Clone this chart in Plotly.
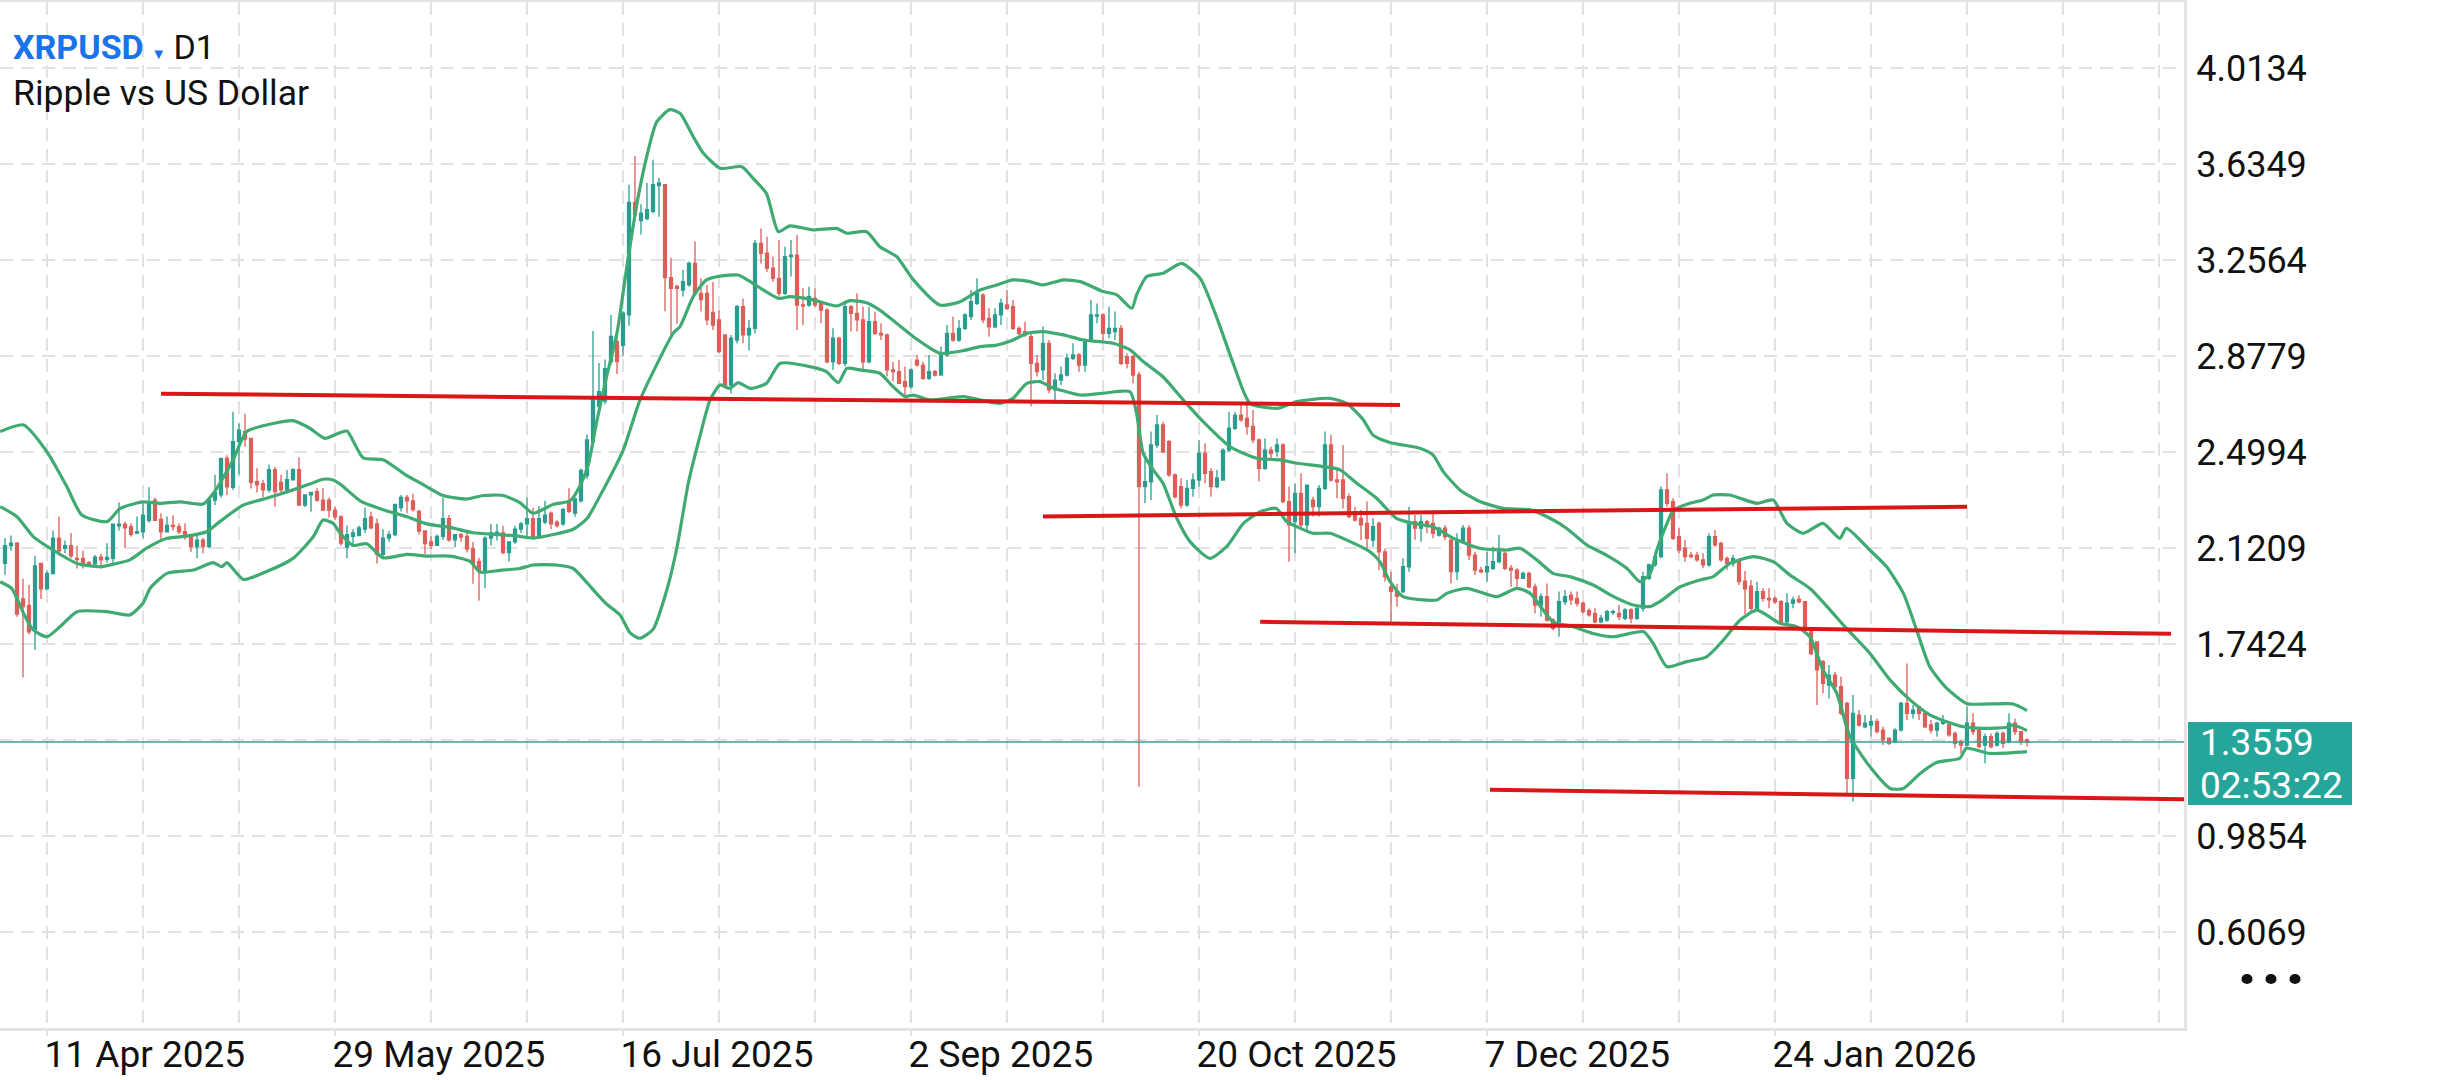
import pandas as pd
import plotly.graph_objects as go

# ---------------- data ----------------
start_date = "2025-04-04"
n_days = 338

opens = [2.06,2.13,2.14,1.92,1.895,1.80,2.06,1.96,2.02,2.16,
2.12,2.13,2.08,2.08,2.063,2.058,2.085,2.076,2.08,2.208,
2.215,2.205,2.18,2.185,2.23,2.31,2.234,2.185,2.21,2.205,
2.185,2.166,2.126,2.152,2.126,2.31,2.33,2.474,2.36,2.54,
2.58,2.553,2.382,2.375,2.35,2.43,2.38,2.35,2.39,2.43,
2.29,2.33,2.343,2.31,2.31,2.27,2.244,2.124,2.167,2.17,
2.195,2.244,2.216,2.096,2.16,2.174,2.28,2.32,2.307,2.265,
2.188,2.145,2.131,2.167,2.237,2.153,2.174,2.167,2.117,2.068,
2.033,2.16,2.178,2.18,2.103,2.145,2.195,2.216,2.237,2.167,
2.223,2.258,2.223,2.216,2.307,2.258,2.307,2.406,2.54,2.68,
2.70,2.856,2.934,2.92,3.04,3.483,3.412,3.42,3.448,3.55,
3.553,3.187,3.152,3.138,3.158,3.243,3.125,3.125,3.05,3.02,
2.961,2.763,2.941,3.072,2.961,2.987,3.322,3.283,3.224,3.184,
3.125,3.27,3.276,3.079,3.079,3.105,3.085,3.059,2.855,2.948,
2.849,3.072,3.046,3.02,2.855,3.013,2.967,2.961,2.823,2.816,
2.777,2.757,2.862,2.842,2.79,2.816,2.803,2.882,2.967,2.941,
2.987,3.033,3.085,3.118,3.026,2.993,3.04,3.079,3.072,2.987,
2.974,2.954,2.849,2.823,2.928,2.744,2.783,2.803,2.869,2.882,
2.842,2.941,3.035,3.04,2.967,2.974,2.987,2.875,2.875,2.803,
2.363,2.382,2.527,2.606,2.54,2.409,2.363,2.29,2.356,2.389,
2.494,2.422,2.363,2.389,2.507,2.593,2.645,2.632,2.60,2.547,
2.435,2.507,2.501,2.527,2.304,2.225,2.336,2.212,2.31,2.284,
2.356,2.527,2.389,2.389,2.323,2.264,2.238,2.218,2.152,2.218,
2.106,1.968,1.95,1.949,2.047,2.225,2.199,2.225,2.218,2.172,
2.199,2.152,2.028,2.146,2.199,2.093,2.034,2.027,2.041,2.067,
2.10,2.041,2.034,2.001,2.021,1.968,1.896,1.929,1.837,1.83,
1.909,1.935,1.922,1.903,1.874,1.863,1.83,1.837,1.867,1.863,
1.844,1.877,1.844,1.883,2.001,2.054,2.087,2.35,2.304,2.166,
2.12,2.093,2.093,2.074,2.054,2.166,2.139,2.08,2.06,2.067,
1.99,1.97,1.883,1.949,1.922,1.922,1.909,1.83,1.903,1.918,
1.909,1.79,1.751,1.673,1.58,1.62,1.574,1.508,1.213,1.462,
1.416,1.423,1.436,1.403,1.371,1.357,1.403,1.508,1.469,1.495,
1.469,1.423,1.403,1.43,1.423,1.39,1.357,1.344,1.43,1.403,
1.344,1.377,1.344,1.39,1.357,1.43,1.397,1.364]

highs = [2.16,2.17,2.145,2.0,1.975,2.09,2.06,2.03,2.19,2.245,
2.15,2.18,2.13,2.11,2.07,2.093,2.097,2.14,2.215,2.30,
2.225,2.218,2.245,2.30,2.36,2.32,2.258,2.245,2.25,2.218,
2.218,2.172,2.172,2.16,2.316,2.41,2.474,2.487,2.658,2.612,
2.65,2.553,2.435,2.39,2.45,2.44,2.41,2.428,2.435,2.478,
2.33,2.343,2.356,2.356,2.32,2.284,2.25,2.21,2.195,2.21,
2.28,2.265,2.237,2.195,2.188,2.293,2.33,2.33,2.335,2.272,
2.188,2.167,2.174,2.32,2.251,2.174,2.18,2.18,2.145,2.082,
2.167,2.216,2.216,2.209,2.145,2.209,2.223,2.32,2.28,2.286,
2.307,2.265,2.23,2.28,2.356,2.32,2.434,2.568,2.976,2.85,
2.864,3.04,2.955,3.054,3.553,3.666,3.476,3.56,3.652,3.58,
3.553,3.265,3.159,3.217,3.25,3.329,3.184,3.158,3.17,3.06,
2.961,2.961,3.079,3.105,3.02,3.335,3.381,3.348,3.27,3.335,
3.309,3.335,3.355,3.145,3.151,3.145,3.092,3.066,2.987,2.954,
3.092,3.079,3.125,3.072,3.072,3.052,3.007,2.967,2.855,2.862,
2.836,2.829,2.882,2.855,2.882,2.823,2.915,3.0,3.033,3.02,
3.046,3.138,3.184,3.125,3.066,3.066,3.105,3.138,3.099,2.994,
3.013,2.967,2.882,2.994,2.941,2.81,2.836,2.888,2.928,2.889,
2.948,3.099,3.085,3.046,3.072,3.053,3.0,2.888,2.882,2.816,
2.494,2.58,2.645,2.619,2.547,2.415,2.396,2.389,2.415,2.547,
2.534,2.435,2.429,2.514,2.658,2.658,2.685,2.685,2.665,2.553,
2.553,2.52,2.553,2.534,2.363,2.376,2.415,2.369,2.323,2.369,
2.58,2.567,2.429,2.527,2.336,2.284,2.271,2.304,2.238,2.225,
2.119,2.027,1.98,2.08,2.284,2.251,2.251,2.231,2.264,2.205,
2.212,2.159,2.179,2.212,2.212,2.106,2.047,2.106,2.126,2.172,
2.106,2.054,2.041,2.027,2.027,1.981,1.942,1.981,1.844,1.949,
1.955,1.949,1.949,1.909,1.883,1.883,1.857,1.877,1.877,1.896,
1.883,1.883,1.89,2.027,2.06,2.10,2.363,2.415,2.317,2.199,
2.152,2.106,2.106,2.10,2.179,2.192,2.146,2.087,2.093,2.08,
2.03,1.995,1.988,1.962,1.962,1.93,1.916,1.942,1.929,1.935,
1.909,1.797,1.751,1.679,1.66,1.633,1.613,1.515,1.541,1.482,
1.462,1.462,1.449,1.416,1.371,1.41,1.515,1.666,1.502,1.495,
1.476,1.443,1.436,1.462,1.43,1.397,1.364,1.495,1.469,1.41,
1.39,1.39,1.397,1.397,1.469,1.449,1.397,1.371]

lows = [2.015,2.11,1.85,1.61,1.78,1.72,1.92,1.955,2.02,2.09,
2.10,2.08,2.04,2.04,2.05,2.05,2.04,2.063,2.063,2.19,
2.12,2.165,2.175,2.16,2.22,2.23,2.146,2.185,2.19,2.176,
2.153,2.106,2.08,2.10,2.12,2.29,2.32,2.33,2.35,2.41,
2.52,2.355,2.34,2.32,2.34,2.284,2.337,2.337,2.39,2.286,
2.283,2.264,2.303,2.27,2.24,2.23,2.13,2.08,2.13,2.167,
2.18,2.195,2.06,2.082,2.146,2.167,2.265,2.258,2.265,2.174,
2.096,2.117,2.131,2.153,2.146,2.124,2.146,2.103,1.98,1.913,
1.962,2.131,2.15,2.096,2.068,2.138,2.18,2.167,2.16,2.16,
2.216,2.195,2.202,2.209,2.258,2.244,2.30,2.392,2.533,2.673,
2.688,2.843,2.807,2.877,2.997,3.42,3.357,3.413,3.441,3.427,
3.054,2.955,3.004,3.112,3.151,3.118,3.053,3.0,2.98,2.888,
2.75,2.73,2.928,2.928,2.90,2.967,3.243,3.21,3.171,3.112,
3.118,3.191,2.98,3.0,3.072,3.072,3.007,2.849,2.823,2.842,
2.836,2.974,2.974,2.823,2.849,2.961,2.941,2.797,2.777,2.77,
2.718,2.75,2.836,2.783,2.783,2.797,2.803,2.875,2.934,2.934,
2.98,3.02,3.079,3.007,2.954,2.987,3.0,3.059,2.98,2.961,
2.954,2.68,2.797,2.783,2.731,2.691,2.764,2.797,2.862,2.816,
2.816,2.934,3.007,2.941,2.948,2.941,2.842,2.829,2.77,1.18,
2.297,2.31,2.514,2.494,2.402,2.317,2.277,2.284,2.323,2.363,
2.376,2.323,2.356,2.389,2.50,2.586,2.619,2.567,2.534,2.383,
2.429,2.468,2.481,2.297,2.067,2.10,2.192,2.185,2.245,2.245,
2.35,2.383,2.317,2.277,2.238,2.225,2.152,2.113,2.126,2.034,
1.988,1.83,1.89,1.942,2.027,2.153,2.146,2.179,2.159,2.166,
2.152,1.982,1.995,2.139,2.074,2.014,2.021,1.988,2.034,2.06,
2.034,1.968,1.968,2.0,1.962,1.863,1.85,1.83,1.797,1.771,
1.896,1.896,1.89,1.863,1.85,1.824,1.824,1.83,1.857,1.837,
1.837,1.824,1.837,1.87,1.995,2.047,2.08,2.284,2.152,2.10,
2.067,2.08,2.067,2.041,2.047,2.126,2.067,2.034,2.047,1.975,
1.86,1.87,1.876,1.909,1.883,1.90,1.824,1.824,1.883,1.903,
1.804,1.699,1.502,1.548,1.528,1.568,1.462,1.154,1.121,1.416,
1.41,1.377,1.39,1.344,1.344,1.351,1.397,1.443,1.449,1.443,
1.41,1.39,1.377,1.423,1.377,1.331,1.311,1.338,1.384,1.331,
1.272,1.331,1.338,1.331,1.351,1.384,1.344,1.338]

closes = [2.13,2.14,1.86,1.89,1.79,2.05,1.96,2.02,2.16,2.11,
2.13,2.09,2.075,2.06,2.058,2.085,2.074,2.084,2.215,2.215,
2.20,2.175,2.185,2.25,2.30,2.23,2.185,2.21,2.205,2.185,
2.166,2.126,2.152,2.126,2.31,2.34,2.474,2.362,2.54,2.586,
2.55,2.38,2.37,2.35,2.43,2.343,2.35,2.39,2.43,2.29,
2.33,2.34,2.31,2.27,2.27,2.244,2.14,2.174,2.18,2.20,
2.237,2.20,2.096,2.16,2.174,2.293,2.32,2.307,2.272,2.188,
2.138,2.131,2.167,2.237,2.153,2.174,2.164,2.117,2.06,2.033,
2.16,2.18,2.183,2.103,2.145,2.195,2.216,2.237,2.167,2.237,
2.25,2.216,2.209,2.272,2.265,2.314,2.427,2.547,2.716,2.737,
2.828,2.955,2.856,3.047,3.483,3.434,3.441,3.455,3.553,3.56,
3.187,3.145,3.145,3.171,3.243,3.125,3.10,3.02,3.0,2.895,
2.763,2.948,3.072,2.961,2.987,3.322,3.283,3.224,3.184,3.125,
3.27,3.276,3.079,3.075,3.112,3.079,3.059,2.855,2.948,2.849,
3.072,3.046,3.02,2.855,3.013,2.967,2.961,2.823,2.816,2.77,
2.757,2.823,2.842,2.79,2.816,2.803,2.882,2.967,2.941,2.987,
3.04,3.092,3.125,3.02,2.993,3.04,3.085,3.066,2.987,2.967,
2.961,2.849,2.816,2.928,2.744,2.783,2.803,2.869,2.882,2.842,
2.941,3.04,3.04,2.967,2.987,2.987,2.849,2.849,2.803,2.363,
2.382,2.527,2.606,2.50,2.409,2.323,2.29,2.356,2.389,2.494,
2.415,2.363,2.396,2.507,2.593,2.645,2.626,2.60,2.547,2.435,
2.507,2.494,2.527,2.304,2.212,2.336,2.212,2.369,2.284,2.356,
2.527,2.389,2.382,2.317,2.245,2.231,2.212,2.159,2.205,2.106,
2.008,1.95,1.93,2.047,2.225,2.199,2.225,2.205,2.179,2.199,
2.166,2.028,2.146,2.199,2.093,2.034,2.027,2.047,2.067,2.106,
2.041,2.034,2.001,2.021,1.968,1.896,1.929,1.837,1.804,1.909,
1.929,1.916,1.903,1.87,1.857,1.83,1.844,1.87,1.87,1.85,
1.877,1.844,1.883,2.008,2.054,2.087,2.35,2.297,2.159,2.113,
2.087,2.087,2.074,2.054,2.166,2.133,2.074,2.06,2.08,1.988,
1.96,1.883,1.949,1.922,1.916,1.909,1.83,1.903,1.916,1.909,
1.804,1.705,1.64,1.587,1.62,1.574,1.469,1.213,1.469,1.423,
1.43,1.436,1.397,1.364,1.351,1.403,1.508,1.469,1.482,1.469,
1.416,1.403,1.43,1.436,1.384,1.351,1.344,1.43,1.397,1.338,
1.377,1.338,1.39,1.351,1.43,1.397,1.357,1.3559]

# Bollinger band lines, read at sample points (day offset from start_date, price)
upper_days = [-0.8,3.1,7,10.3,12.8,17,19.2,23,25.8,29.2,33,34.7,38,40.3,44.7,48,50.8,53.3,55.8,57,
59.7,63,67,69.7,73,77,79.7,83,85.8,88,91.4,94.2,95.8,97.2,98.6,100.3,102,103.6,105.3,106.9,
108.6,110.8,112.5,114.7,116.4,119.2,122.8,124.7,126.9,128.9,130.8,134.7,138.6,140.3,143.6,145.8,148.6,151.4,155.8,159.2,
162.5,165.3,168,170.8,173,176.4,179.2,183,185.3,187.8,188.6,190.3,193,196.1,199.2,201.9,204.7,207.5,212.2,215.3,
220.8,223.6,226.4,228,230.8,235.8,238,239.7,242.5,245.8,249.7,254.2,257.5,260.3,263.6,266.9,270.3,272.5,274.2,275.3,
277,278.1,280.8,283,284.7,287.5,289.2,292,294.7,297,299.7,303,305.8,306.9,310.8,313.6,316.4,318.6,320.8,323.6,
326.9,330.8,334.7,337]
upper_vals = [2.58,2.606,2.5,2.363,2.251,2.225,2.277,2.303,2.297,2.303,2.294,2.336,2.468,2.58,2.612,2.623,2.593,2.553,2.575,2.582,
2.476,2.469,2.406,2.371,2.328,2.314,2.328,2.328,2.3,2.258,2.293,2.307,2.364,2.448,2.617,2.80,2.969,3.223,3.476,3.659,
3.80,3.849,3.835,3.743,3.677,3.618,3.624,3.578,3.519,3.368,3.391,3.375,3.381,3.362,3.368,3.309,3.27,3.178,3.079,3.092,
3.138,3.158,3.178,3.171,3.158,3.178,3.171,3.132,3.119,3.066,3.119,3.191,3.204,3.243,3.184,3.033,2.849,2.691,2.672,2.698,
2.711,2.691,2.626,2.566,2.537,2.514,2.488,2.422,2.35,2.304,2.277,2.271,2.238,2.198,2.133,2.093,2.041,1.988,2.021,2.113,
2.218,2.271,2.297,2.31,2.33,2.33,2.317,2.297,2.31,2.218,2.179,2.218,2.159,2.198,2.113,2.047,1.942,1.798,1.653,1.568,
1.508,1.506,1.506,1.48]

middle_days = [-0.8,2,4.7,8,12,15.8,17.5,20.8,23.6,27,30.3,33.6,35.8,39.7,43.6,48,50.8,53,54.7,56,
59.2,63,67,70.3,74.2,78,82.5,85.8,88,91.4,94.7,97,99.7,103,105.8,108.6,111.4,112.5,114.7,116.9,
119.2,122.2,124.2,128.9,130.8,134.7,138.6,140.8,143.6,145.8,148.6,151.4,155.8,159.7,162.5,165.3,168,170.3,173,176.4,
179.7,184.7,187.5,189.7,193,196.4,199.7,204.2,208.6,212.5,215.3,219.7,222.5,225.3,228.6,231.9,234.7,238,241.4,245.8,
250.3,252.5,255.3,258,260.8,264.7,268.1,271.4,274.2,275.8,279.2,282.5,284.7,287.5,291.4,294.7,297.5,300.8,304.2,306.9,
310.8,314.2,317.5,320.8,323.6,326.4,329.7,333.6,334.7,337]
middle_vals = [2.284,2.244,2.166,2.113,2.06,2.047,2.054,2.074,2.12,2.159,2.168,2.185,2.225,2.29,2.317,2.35,2.373,2.392,2.389,2.37,
2.307,2.272,2.244,2.216,2.202,2.181,2.174,2.167,2.16,2.174,2.195,2.237,2.35,2.505,2.702,2.843,2.969,2.994,3.112,3.178,
3.193,3.197,3.171,3.105,3.112,3.099,3.075,3.096,3.088,3.059,3.007,2.954,2.889,2.899,2.915,2.921,2.941,2.967,2.974,2.961,
2.941,2.928,2.902,2.856,2.796,2.704,2.619,2.52,2.475,2.468,2.455,2.442,2.429,2.376,2.317,2.238,2.218,2.205,2.159,2.12,
2.113,2.12,2.074,2.021,2.008,1.975,1.929,1.896,1.89,1.909,1.968,1.995,2.008,2.06,2.087,2.067,2.014,1.962,1.876,1.804,
1.706,1.60,1.522,1.463,1.436,1.416,1.41,1.414,1.423,1.401]

lower_days = [-0.8,1.1,3.1,4.7,7,9.2,12,17,20.8,23,24.2,27,31.4,34.7,36.1,37,39.7,43.6,48,51.4,
53,54.7,55.8,58,60.3,63,67,70.3,74.2,77.5,79.2,82.5,85.8,88,91.9,94.7,97,98.6,100.3,102.5,
104.2,105.8,108,110.3,112,113.9,115.8,117.5,119.2,120.8,122.2,124.2,126.9,129.2,134.7,136.9,138.9,140.3,142.5,145.8,
148,150,151.4,154.2,159.7,165.8,168,170.3,172.5,174.2,179.2,183,187.5,188.6,189.7,191.4,193,195.3,197.5,200.8,
203.6,206.4,209.2,211.9,213.6,215.3,218,220.8,224.2,227.5,229.2,230.8,233,238.6,240.3,243.6,248.6,252,254.2,258,
261.4,264.7,268.1,273.1,274.7,277,280.3,283.6,286.4,289.2,292,295.8,298.6,300.8,303,305.3,307.5,310.8,314.2,316.4,
319.2,321.9,325.8,326.9,330.8,337]
lower_vals = [1.988,1.962,1.863,1.798,1.771,1.811,1.87,1.87,1.857,1.903,1.962,2.021,2.034,2.063,2.047,2.063,1.997,2.028,2.08,2.166,
2.231,2.218,2.181,2.131,2.138,2.082,2.096,2.089,2.089,2.068,2.026,2.033,2.04,2.054,2.054,2.04,1.984,1.941,1.899,1.857,
1.786,1.765,1.80,1.955,2.124,2.378,2.56,2.704,2.764,2.75,2.773,2.75,2.77,2.849,2.833,2.816,2.773,2.829,2.823,2.81,
2.757,2.718,2.724,2.704,2.718,2.691,2.711,2.77,2.777,2.757,2.724,2.731,2.737,2.652,2.494,2.428,2.376,2.238,2.146,2.08,
2.126,2.218,2.264,2.277,2.225,2.205,2.179,2.179,2.146,2.106,2.065,1.99,1.929,1.916,1.942,1.962,1.929,1.962,1.942,1.83,
1.811,1.784,1.771,1.791,1.745,1.653,1.673,1.692,1.758,1.837,1.876,1.824,1.811,1.771,1.64,1.548,1.377,1.259,1.173,1.173,
1.232,1.275,1.292,1.331,1.311,1.318]

# hand-drawn red trend lines (start day, end day, start price, end price)
trend_start_days = [26, 173, 209.2, 247.5]
trend_end_days = [232.5, 327, 361, 363.2]
trend_start_prices = [2.729, 2.245, 1.83, 1.168]
trend_end_prices = [2.685, 2.284, 1.783, 1.13]

last_price = 1.3559
countdown = "02:53:22"

y_tick_vals = [4.0134, 3.6349, 3.2564, 2.8779, 2.4994, 2.1209, 1.7424, 1.3639, 0.9854, 0.6069]
y_tick_text = ["4.0134", "3.6349", "3.2564", "2.8779", "2.4994", "2.1209", "1.7424", "", "0.9854", "0.6069"]
x_tick_vals = ["2025-04-11", "2025-05-29", "2025-07-16", "2025-09-02", "2025-10-20", "2025-12-07", "2026-01-24"]
x_tick_text = ["11 Apr 2025", "29 May 2025", "16 Jul 2025", "2 Sep 2025", "20 Oct 2025", "7 Dec 2025", "24 Jan 2026"]
x_range = ["2025-04-03 04:00", "2026-04-02 04:00"]
y_range = [0.2284, 4.2736]

# ---------------- style ----------------
UP = "#2a9d8f"
DOWN = "#dc5f5a"
BAND = "#3faa72"
TREND = "#d81818"
GRID = "#e2e2e2"
FRAME = "#e4e4e4"
LABEL_BG = "#26a69a"
FONT = "Roboto"
PLOT_W, PLOT_H, PLOT_BOTTOM = 2184, 1026, 1028   # plot-area size / bottom edge in page px

base = pd.Timestamp(start_date)
dates = pd.date_range(start_date, periods=n_days, freq="D")

def to_dates(days):
    return base + pd.to_timedelta(days, unit="D")

def px_x(px):
    return px / PLOT_W

def px_y(py):
    return (PLOT_BOTTOM - py) / PLOT_H

fig = go.Figure()
fig.add_trace(go.Candlestick(
    x=dates, open=opens, high=highs, low=lows, close=closes,
    increasing=dict(line=dict(color=UP, width=1.3), fillcolor=UP),
    decreasing=dict(line=dict(color=DOWN, width=1.3), fillcolor=DOWN),
    whiskerwidth=0, showlegend=False, hoverinfo="skip"))

for d, v in [(upper_days, upper_vals), (middle_days, middle_vals), (lower_days, lower_vals)]:
    fig.add_trace(go.Scatter(x=to_dates(d), y=v, mode="lines",
                             line=dict(color=BAND, width=3.2, shape="spline", smoothing=0.6),
                             showlegend=False, hoverinfo="skip"))

for d0, d1, p0, p1 in zip(trend_start_days, trend_end_days, trend_start_prices, trend_end_prices):
    fig.add_trace(go.Scatter(x=to_dates([d0, d1]), y=[p0, p1], mode="lines",
                             line=dict(color=TREND, width=4),
                             showlegend=False, hoverinfo="skip"))

# current price line
fig.add_shape(type="line", xref="paper", x0=0, x1=1, yref="y", y0=last_price, y1=last_price,
              line=dict(color="#3a9f96", width=1.6), layer="above")

# price label box + its two text lines
fig.add_shape(type="rect", xref="paper", yref="paper",
              x0=px_x(2188), x1=px_x(2352), y0=px_y(805), y1=px_y(722),
              fillcolor=LABEL_BG, line=dict(width=0), layer="above")
fig.add_annotation(xref="paper", x=px_x(2199), xanchor="left", yref="paper", y=px_y(742),
                   yanchor="middle", text=f"{last_price:.4f}", showarrow=False, borderpad=0,
                   font=dict(family=FONT, size=37, color="white"))
fig.add_annotation(xref="paper", x=px_x(2199), xanchor="left", yref="paper", y=px_y(785),
                   yanchor="middle", text=countdown, showarrow=False, borderpad=0,
                   font=dict(family=FONT, size=37, color="white"))

# symbol header
fig.add_annotation(xref="paper", x=px_x(12), xanchor="left", yref="paper", y=0.956, yanchor="middle",
                   text="<b><span style='color:#1a73e8'>XRPUSD</span></b>"
                        "<span style='color:#1a73e8;font-size:15px'>  ▼  </span>D1",
                   showarrow=False, font=dict(family=FONT, size=34, color="#111111"), borderpad=0)
fig.add_annotation(xref="paper", x=px_x(12), xanchor="left", yref="paper", y=0.911, yanchor="middle",
                   text="Ripple vs US Dollar", showarrow=False,
                   font=dict(family=FONT, size=35.5, color="#111111"), borderpad=0)

# "more" dots under the price scale
for cx in [2247, 2271, 2295]:
    fig.add_shape(type="circle", xref="paper", yref="paper",
                  x0=px_x(cx - 5.5), x1=px_x(cx + 5.5),
                  y0=px_y(984), y1=px_y(974),
                  fillcolor="#111111", line=dict(width=0))

fig.update_layout(
    width=2460, height=1080,
    margin=dict(l=0, r=276, t=2, b=52),
    paper_bgcolor="white", plot_bgcolor="white",
    font=dict(family=FONT, size=35, color="#111111"),
    showlegend=False,
    xaxis=dict(type="date", range=x_range, rangeslider=dict(visible=False),
               tickmode="array", tickvals=x_tick_vals, ticktext=x_tick_text,
               ticklabelposition="outside right", ticklabelstandoff=-8, ticklabelshift=-5,
               ticks="outside", ticklen=5, tickwidth=2, tickcolor=FRAME,
               tickfont=dict(family=FONT, size=37, color="#111111"),
               showgrid=True, gridcolor=GRID, gridwidth=2, griddash="13px,8px",
               minor=dict(tick0="2025-04-11", dtick=16 * 86400000, showgrid=True,
                          gridcolor=GRID, gridwidth=2, griddash="13px,8px", ticks=""),
               showline=True, linecolor=FRAME, linewidth=3, mirror=True,
               zeroline=False, fixedrange=True),
    yaxis=dict(side="right", range=y_range, tickmode="array",
               tickvals=y_tick_vals, ticktext=y_tick_text,
               tickfont=dict(family=FONT, size=36, color="#111111"),
               ticks="", ticklabelstandoff=2,
               showgrid=True, gridcolor=GRID, gridwidth=2, griddash="13px,8px",
               showline=True, linecolor=FRAME, linewidth=3,
               zeroline=False, fixedrange=True),
)

fig.write_html("out.html", config={"displayModeBar": False},
               post_script="document.body.style.margin='0px';document.body.style.padding='0px';")
